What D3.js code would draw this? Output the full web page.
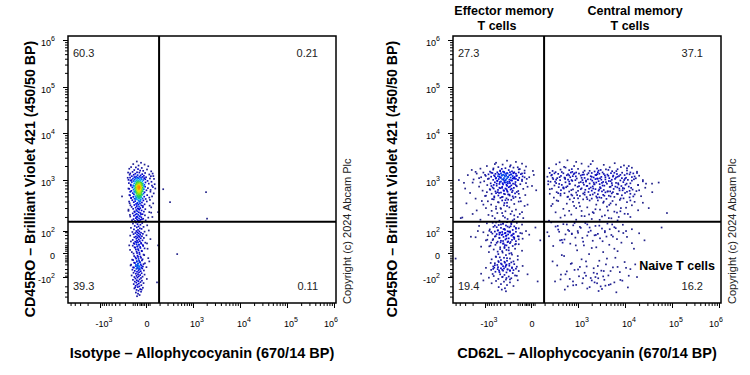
<!DOCTYPE html>
<meta charset="utf-8">
<script src="https://d3js.org/d3.v7.min.js"></script>
<style>
  body { margin: 0; background: #fff; }
  text { font-family: Arial, "Liberation Sans", sans-serif; }
</style>
<div id="my_dataviz"></div>
<script>

// axis ticks (biexponential display)
var xMajor = [-1000, 0, 1000, 1e4, 1e5, 1e6];
var yMajor = [-100, 0, 100, 1e3, 1e4, 1e5, 1e6];
var xMinor = [-5000, -4000, -3000, -2000, -900, -800, -700, -600, -500, -400, -300, -200, -100,
  -80, -60, -40, -30, -20, -10, 10, 20, 100, 200, 300, 400, 500, 600, 700, 800, 900,
  2000, 3000, 4000, 5000, 6000, 7000, 8000, 9000, 2e4, 3e4, 4e4, 5e4, 6e4, 7e4, 8e4, 9e4,
  2e5, 3e5, 4e5, 5e5, 6e5, 7e5, 8e5, 9e5];
var yMinor = [-400, -300, -200, -90, -70, -50, -30, -20, -15, -10, -5, 5, 10, 15, 20, 30, 50, 70, 90,
  200, 300, 400, 500, 600, 700, 800, 900, 2000, 3000, 4000, 5000, 6000, 7000, 8000, 9000,
  2e4, 3e4, 4e4, 5e4, 6e4, 7e4, 8e4, 9e4, 2e5, 3e5, 4e5, 5e5, 6e5, 7e5, 8e5, 9e5];

// quadrant gate
var gateX = 95, gateY = 160;

// quadrant frequencies: UL, UR, LL, LR
var isoPct = ["60.3", "0.21", "39.3", "0.11"];
var cd62Pct = ["27.3", "37.1", "19.4", "16.2"];

// Isotype plot events [APC, BV421]
var isoUpper = [[-62,2500],[-30,2350],[-95,2200],[-8,2150],[-48,2050],[12,1980],[-118,1900],[-70,1870],[-25,1820],[-140,1750],[-52,1720],[5,1690],[-85,1640],[-36,1600],[-16,1580],[30,1540],[-102,1500],[-60,1470],[-42,1450],[-5,1420],[-128,1390],[-75,1370],[-22,1340],[18,1320],[-90,1300],[-55,1280],[-33,1260],[-12,1240],[45,1220],[-110,1210],
[-68,1190],[-40,1180],[-20,1170],[-84,1160],[0,1150],[-55,1140],[-130,1130],[-30,1120],[-72,1110],[-10,1100],[-46,1090],[22,1080],[-98,1070],[-60,1060],[-26,1050],[-4,1040],[-80,1030],[-38,1020],[-150,1010],[-15,1000],
[-52,990],[-66,980],[-33,975],[8,965],[-90,960],[-45,950],[-21,945],[-75,935],[-58,925],[-110,920],[-36,910],[-3,905],[-64,895],[-28,885],[-48,880],[-85,870],[-17,865],[15,860],[-55,850],[-40,845],[-70,840],[-30,832],[-122,828],[-9,820],[-62,815],[-44,810],[-24,805],[-95,800],[-50,795],[35,792],[-78,788],[-35,784],[-14,780],[-58,776],[-68,772],
[-42,768],[-26,764],[-88,760],[-5,755],[-52,750],[-63,745],[-33,740],[-104,735],[-47,730],[-19,726],[-72,722],[-38,716],[10,712],[-58,708],[-82,702],[-29,698],[-45,694],[-140,690],[-66,686],[-12,682],[-36,678],[-54,674],[-92,670],[-24,665],[-48,660],[-74,655],[2,650],[-40,646],[-60,642],[-31,638],[-115,634],[-50,630],[-18,625],[-85,620],[-44,616],[25,612],[-69,608],[-35,604],[-56,600],[-8,598],
[-78,594],[-41,588],[-27,582],[-100,576],[-53,570],[-14,564],[-65,558],[-36,552],[-88,546],[-47,540],[-22,534],[6,528],[-130,522],[-59,516],[-32,510],[-75,505],[-43,500],[-10,495],[-95,490],[-52,485],[-28,480],[18,476],[-68,472],[-38,468],[-117,464],[-50,460],[-20,456],[-82,452],[-44,450],[-2,448],
[-60,440],[-32,432],[-105,425],[-15,420],[-48,414],[-76,408],[4,402],[-40,396],[-90,390],[-24,384],[-56,378],[-135,372],[-37,366],[-68,360],[-8,355],[-50,350],[-84,344],[-28,338],[20,334],[-62,328],[-44,322],[-112,316],[-18,312],[-72,306],[-35,300],[-54,296],[-96,290],[-4,286],[-42,280],[-66,275],[-26,270],[-150,265],[-58,260],[-12,256],[-80,252],[-46,248],[30,244],[-34,240],[-100,236],[-62,232],[-20,228],[-74,224],[-50,220],[-6,216],[-88,212],[-38,208],[-128,204],[-56,200],[-28,197],[12,194],[-70,190],[-44,187],[-16,184],[-92,181],[-60,178],[-34,175],[-108,172],[-2,170],[-52,168],[-78,166],[-40,164],[-24,180],[-64,202],[-30,226],[-84,258],[-48,290],[-18,330],[-58,370],[-36,410],[-70,446],
[-155,1450],[40,1380],[-135,1300],[28,1210],[-160,1120],[50,1060],[-125,980],[32,930],[-145,880],[55,840],[-120,790],[42,745],[-150,700],[26,660],[-128,610],[48,570],[-138,530],[36,500],[-118,470],[22,430],[-142,400],[44,370],[-126,340],[30,310],[-150,280],[18,250],[-132,220],[38,200],[-112,1000],[60,700],
[-48,900],[-30,889],[-60,878],[-40,867],[-22,856],[-54,845],[-36,834],[-66,823],[-44,812],[-26,801],[-58,790],[-38,779],[-50,768],[-30,757],[-64,746],[-42,735],[-20,724],[-52,713],[-34,702],[-46,691],[-60,680],[-28,669],[-40,658],[-54,647],[-36,636],[-24,625],[-48,614],[-62,603],[-32,592],[-44,581],[-56,570],[-38,559],[-28,548],[-50,537],[-42,526],[-34,515],[-58,504],[-46,493],[-30,482],[-40,471]];

var isoLower = [[-45,158],[-70,154],[-22,150],[-98,146],[-56,142],[-34,138],[6,134],[-80,130],[-48,127],[-14,124],[-62,121],[-120,118],[-38,115],[-26,112],[-88,109],[-52,106],[15,103],[-66,100],[-42,97],[-8,95],[-104,92],[-58,89],[-30,86],[-75,84],[-46,81],[-18,78],[-92,76],[-60,73],[-36,71],[2,68],[-128,66],[-50,64],[-24,62],[-70,60],[-40,58],[-84,56],[-56,54],[-12,52],[-32,50],[-66,48],[25,46],[-46,44],[-100,42],[-20,40],[-60,38],
[-38,36],[-76,34],[-52,32],[-4,30],[-90,28],[-28,26],[-64,24],[-44,22],[-140,20],[-16,18],[-56,16],[-82,14],[-34,12],[8,10],[-70,8],[-48,6],[-24,4],[-110,2],[-60,0],[-40,-2],[-10,-4],[-86,-6],[-52,-8],[-30,-10],[-68,-12],[-20,-14],[-96,-16],[-44,-18],[18,-20],[-62,-21],[-36,-23],[-78,-25],[-50,-27],[-14,-29],[-118,-31],[-58,-33],[-28,-35],[-72,-37],[-42,-39],[2,-41],[-88,-43],[-54,-45],[-22,-47],[-66,-49],[-38,-51],[-104,-53],[-48,-55],[-12,-57],[-80,-59],[-32,-61],
[-120,35],[-66,31],[-30,29],[5,27],[-84,25],[-46,23],[-18,21],[-100,19],[-58,17],[-36,15],[-76,13],[-8,11],[-52,9],[-130,7],[-26,5],[-64,3],[-42,1],[-92,-1],[-14,-3],[-56,-5],[-34,-7],[-74,-9],[12,-11],[-48,-13],[-106,-15],[-24,-17],[-62,-19],[-40,-22],[-86,-24],[-6,-26],[-54,-28],[-32,-30],[-70,-32],[-124,-34],[-46,-36],[-18,-38],[-60,-40],[-96,-42],[-28,-44],[-44,-46],
[-60,-64],[-44,-67],[-92,-70],[-26,-73],[-70,-76],[-52,-79],[-8,-82],[-36,-85],[-112,-88],[-64,-91],[-46,-94],[-20,-97],[-84,-100],[-56,-104],[-30,-108],[-74,-112],[4,-116],[-40,-120],[-98,-124],[-62,-128],[-24,-132],[-50,-137],[-80,-142],[-34,-147],[-66,-152],[-14,-158],[-46,-164],[-90,-170],[-58,-177],[-28,-184],[-72,-192],[-42,-200],[-54,-210],[-18,-220],[-84,-230],[-36,-242],[-64,-255],[-48,-270],[-30,-288],[-70,-305],[-52,-330],[-40,-360],[-60,-390],[-26,-250],[-76,-215]];

var isoOut = [[140,680],[1930,600],[240,390],[2030,185],[390,-2],[75,-150],[85,20],[85,250],[-250,500]];

// CD62L plot events [APC, BV421], by quadrant
var cd62UL = [[-250,2600],[-120,2450],[-520,2350],[-60,2250],[-340,2150],[-190,2080],[-900,2000],[-30,1950],[-450,1900],[-150,1850],[-280,1800],[-1300,1760],[-80,1720],[-620,1680],[-220,1640],[-400,1600],[10,1570],[-170,1540],[-750,1520],[-310,1500],[-2100,1650],[-100,1880],[-560,2200],[-40,1600],[-360,1740],
[-200,1480],[-480,1470],[-90,1460],[-1100,1450],[-300,1440],[-150,1430],[-650,1420],[-40,1410],[-380,1400],[-240,1390],[-1600,1380],[-120,1370],[-540,1360],[-270,1350],[-70,1340],[-820,1330],[-180,1320],[-420,1310],[-330,1300],[15,1290],[-2600,1280],[-210,1270],[-590,1260],[-110,1250],[-360,1240],[-960,1230],[-160,1220],[-460,1210],[-55,1200],[-290,1190],[-700,1180],[-230,1170],[-135,1160],[-1250,1150],[-400,1140],[-190,1130],[-85,1120],[-520,1110],[-310,1100],[-250,1090],[-800,1080],[-140,1070],[-25,1060],[-440,1050],[-350,1040],[-1900,1030],[-210,1020],[-620,1010],[-100,1000],[-280,990],[-170,980],[-480,970],[-60,960],[-1050,950],[-380,940],[-240,930],[-125,920],[-560,910],[-300,900],[-3200,890],[-200,880],[-720,870],[-155,860],[-420,850],[-75,840],[-330,830],[-260,820],[-880,810],[-180,800],[-500,790],[5,780],[-110,770],[-1400,760],[-350,750],[-220,740],[-640,730],[-145,720],[-400,710],[-280,700],[-50,690],[-760,680],[-190,670],[-460,660],[-320,650],[-1150,640],[-95,630],[-540,620],[-240,610],[-170,600],[-380,590],[-2300,580],[-130,570],[-680,560],[-290,550],[-210,540],[-35,530],[-450,520],[-1000,510],[-160,500],[-340,490],[-580,480],[-80,470],[-260,460],[-1700,455],[-420,1170],[-120,1060],[-300,960],[-200,760],[-500,860],[-90,560],[-250,640],[-360,1280],[-150,1400],[-600,700],[-430,580],[-270,900],
[-600,440],[-180,430],[-350,420],[-1200,410],[-90,400],[-460,390],[-250,380],[-2800,370],[-140,360],[-700,350],[-310,340],[-40,330],[-520,320],[-210,310],[-950,300],[-380,290],[-120,280],[-1600,270],[-280,260],[-60,250],[-480,240],[-190,230],[-820,220],[-330,210],[-100,200],[-3500,195],[-560,188],[-240,182],[-1300,176],[-160,170],[-420,168],[-20,350],[-680,265],[-300,375],[-2000,230],[-140,215],[-850,405],[-50,190],[-390,300],[-230,435],[-4200,1000],[-3800,190],
[-330,1520],[-140,1470],[-700,1445],[-250,1415],[-60,1385],[-450,1355],[-190,1325],[-1000,1295],[-300,1265],[-115,1235],[-560,1205],[-230,1175],[-40,1145],[-380,1115],[-160,1085],[-850,1055],[-270,1025],[-95,995],[-480,965],[-210,935],[-1300,905],[-340,875],[-130,845],[-600,815],[-250,785],[-20,755],[-420,725],[-175,695],[-740,665],[-310,635],[-110,605],[-520,575],[-230,545],[-950,515],[-360,485],[-150,465],[-660,445],[-280,425],[-70,405],[-440,385],
[-200,1950],[-610,1780],[-90,1700],[-400,1560],[-1700,1500],[-265,1240],[-145,1110],[-530,1080],[-320,1010],[-185,990],[-410,920],[-235,870],[-120,800],[-690,780],[-355,720],[-260,680],[-160,640],[-470,600],[-310,560],[-205,520],[-580,500],[-125,490],[-395,470],[-1100,350],[-250,330],[-520,290],[-170,260],[-350,240],[-80,230],[-650,210],[-290,195],[-140,180],[-900,600],[-1400,1100],[-2000,900],[-3000,700],[-30,880],[-10,1150],[30,650],[-60,1020]];

var cd62UR = [[540,2650],[2100,2550],[330,2400],[6100,2300],[1200,2250],[260,2180],[3600,2120],[9500,2060],[800,2000],[1700,1960],[440,1920],[4800,1880],[14000,1840],[150,1800],[2600,1770],[1000,1740],[7000,1710],[350,1680],[3100,1650],[600,1630],[11000,1610],[1400,1590],[200,1570],[5400,1550],[2300,1530],[18000,1510],[720,1500],[4000,1700],[8200,1900],[1900,2200],[480,1850],[12000,2000],[2800,1600],[900,2450],[6600,1560],
[250,1480],[1300,1470],[3400,1460],[660,1450],[8700,1440],[160,1430],[2000,1420],[5100,1410],[420,1400],[15000,1390],[1050,1380],[2900,1370],[300,1360],[6800,1350],[780,1340],[12500,1330],[1600,1320],[4300,1310],[190,1300],[2400,1290],[9800,1280],[520,1270],[3800,1260],[1150,1250],[20000,1240],[360,1230],[7500,1220],[1900,1210],[880,1200],[5600,1190],[130,1180],[3200,1170],[14000,1160],[640,1150],[2200,1140],[450,1130],[10500,1120],[1400,1110],[4700,1100],[280,1100],
[17000,1090],[930,1080],[2700,1070],[6200,1060],[210,1050],[1650,1040],[3900,1030],[560,1020],[11500,1010],[1250,1000],[340,995],[8000,985],[2050,975],[720,965],[5000,955],[24000,948],[1500,940],[170,932],[3500,925],[9200,918],[480,910],[2500,902],[1050,895],[6500,888],[260,880],[13000,872],[1800,865],[4200,858],[610,850],[2950,843],[140,836],[7300,830],[1350,823],[380,816],[19000,810],[5400,805],[850,800],[2250,840],[10800,860],[3300,890],[1150,920],[4600,960],[690,1000],[15500,1040],[2600,1075],
[230,795],[3700,790],[1600,784],[8400,778],[540,772],[2100,766],[12000,760],[980,754],[4800,748],[310,742],[6900,736],[1900,730],[27000,724],[420,718],[3100,712],[1200,706],[9600,700],[190,694],[5800,688],[2400,682],[750,676],[14500,670],[1450,664],[3600,658],[360,652],[7700,646],[2800,640],[1000,634],[17500,628],[4400,622],[600,616],[11000,610],[1700,605],[270,600],[6300,760],[2150,700],[8900,650],[500,740],[3300,620],[13500,720],
[3900,595],[900,590],[2300,585],[10000,580],[450,575],[5300,570],[1300,565],[160,560],[7100,555],[2700,550],[16000,545],[680,540],[3500,535],[1850,530],[8600,525],[350,520],[4600,515],[1100,510],[22000,505],[2500,500],[560,495],[6000,490],[1550,485],[12500,480],[220,475],[3200,470],[800,465],[9300,460],[2000,455],[4100,450],[1400,540],[5600,600],[720,520],[13000,560],[2900,480],
[620,440],[7800,430],[1800,420],[300,410],[3600,400],[11000,390],[1050,380],[5000,370],[200,360],[2500,350],[14000,340],[800,330],[4200,320],[1600,310],[8200,300],[420,290],[3000,280],[19000,272],[1200,264],[6000,256],[250,248],[2200,240],[9800,232],[680,224],[3800,216],[1400,208],[13000,200],[350,194],[5200,188],[2000,182],[900,176],[7000,170],[150,168],[2700,420],[16000,395],[520,365],[4700,345],[1100,325],[10500,305],[2400,285],[600,265],[6800,245],[1750,225],[3300,205],[24000,380],[460,215],[8000,260],[1300,440],[4600,190],[180,330],[32000,300],[2950,175],[11500,230],[750,395],[5500,410],[78000,240],[37600,860],[52000,900],[38000,600],
[380,1490],[2700,1475],[900,1455],[6000,1435],[1700,1415],[230,1395],[11000,1375],[3600,1355],[560,1335],[1350,1315],[8000,1295],[2500,1275],[180,1255],[4500,1235],[740,1215],[16000,1195],[2000,1175],[330,1155],[6500,1135],[1200,1115],[3000,1095],[10000,1075],[470,1055],[1900,1035],[5300,1015],[860,995],[14000,975],[2800,955],[240,935],[4000,915],[1300,895],[7200,875],[620,855],[2300,835],[19000,815],[3400,795],[1050,775],[5000,755],[420,735],[9000,715],[1750,695],[2900,675],[680,655],[12500,635],[4300,615],[1400,595],[300,575],[6800,560],[2100,545],[950,530],[3700,515],[15000,500],[540,488],[2600,472],[8100,458],[1600,445],[4900,620],[1150,680],[7600,700],[320,850],[2400,1050],[5700,1250],[820,1400],[13000,1460],[3900,1150],[260,1020],[1550,780],[10200,820],[600,940],[3200,1020],[7000,1180],[2000,640],[1250,1300],[5300,880],[430,700],[2200,900],[9600,1000],[1800,1580],[4500,1650],[700,1720],[11000,1800],[350,560],[3000,740],[1500,980],[8600,1100],[24000,1000],[600,1260],[2600,1340],[18000,1420],[470,1100],[5000,500],[1000,460],[3500,380],[900,300],[6500,350],[2100,250],[13000,420],[270,420],[4400,270],[1200,210],[7400,200],[20000,650],[28000,860],[160,680],[200,1120],[140,950]];

var cd62LL = [[-250,158],[-520,154],[-110,151],[-900,148],[-330,145],[-180,142],[-60,139],[-440,136],[-270,133],[-1400,130],[-140,127],[-610,124],[-210,121],[-380,118],[-90,115],[-300,112],[-760,109],[-160,106],[-470,103],[-30,100],[-240,98],[-560,96],[-120,94],[-350,92],[-1100,90],[-200,88],[-420,86],[-75,84],[-290,82],[-650,80],[-150,78],[-500,76],[-230,74],[-10,72],[-360,70],[-850,68],[-180,66],[-270,64],[-100,62],[-560,60],
[-180,150],[-380,140],[-560,132],[-240,126],[-120,118],[-320,110],[-460,104],[-200,97],[-700,91],[-280,85],[-150,79],[-420,73],[-260,67],[-90,61],[-640,152],[-330,146],[-190,128],[-500,122],[-120,113],[-290,107],[-780,101],[-220,95],[-400,87],[-60,81],[-340,75],[-170,69],[-530,63],[-250,157],[25,120],[-1500,100],
[-320,58],[-1700,56],[-140,54],[-420,52],[-220,50],[-55,48],[-620,46],[-280,44],[-170,42],[-950,40],[-380,38],[-120,36],[-470,34],[-240,32],[-700,30],[-200,28],[-330,26],[-90,24],[-540,22],[-260,20],[-160,18],[-1250,16],[-400,14],[-300,12],[-130,10],[-600,8],[-220,6],[-350,4],[-800,2],[-180,0],[-450,-2],[-270,-4],[-100,-6],[-520,-8],[-310,-10],[-200,-12],[-680,-14],[-380,-16],[-250,-18],[-150,-20],
[-150,57],[-420,53],[-260,49],[-90,45],[-640,41],[-330,37],[-190,33],[-500,29],[-120,25],[-290,21],[-780,17],[-220,13],[-400,9],[-60,5],[-340,1],[-170,-3],[-530,-7],[-250,-11],[-100,-15],[-450,-19],[60,40],[-2200,59],[-320,27],[-410,-9],[-140,47],[-730,19],[-230,35],[-470,3],[-300,15],[-260,7],[-880,43],[-210,-1],[-130,23],[-390,31],[-5000,-12],
[-440,-22],[-290,-24],[-560,-26],[-210,-28],[-360,-30],[-480,-32],[-270,-34],[-55,-36],[-620,-38],[-280,-40],[-170,-42],[-950,-44],[-380,-46],[-120,-48],[-470,-50],[-240,-52],[-700,-54],[-200,-56],[-330,-58],[-90,-60],
[-300,-21],[-180,-23],[-720,-25],[-380,-27],[-140,-29],[-260,-31],[-560,-33],[-210,-35],[-330,-37],[-110,-39],[-460,-41],[-580,-43],[-170,-45],[-310,-47],[-620,-49],[-240,-51],[-350,-53],[-150,-55],[-430,-57],[-200,-59],
[-540,-64],[-260,-68],[-160,-72],[-1250,-76],[-400,-80],[-300,-84],[-130,-88],[-600,-92],[-220,-96],[-350,-100],[-800,-105],[-180,-110],[-450,-116],[-270,-122],[-100,-128],[-520,-135],[-310,-142],[-200,-150],[-680,-160],[-380,-170],[-250,-182],[-150,-195],[-440,-210],[-290,-228],[-360,-250],[-270,-280],[-20,-80],[40,-140],[-1100,-130],[-260,-108],[-110,-90],[-640,-78],[-420,-66],[-200,-120],[-340,-98]];

var cd62LR = [[180,155],[1450,150],[4300,146],[420,142],[9000,138],[760,134],[2400,130],[250,126],[6000,122],[1150,118],[3300,114],[14000,110],[560,106],[1900,102],[7400,98],[320,94],[3800,90],[1000,86],[20000,82],[2700,78],[480,74],[5200,70],[1600,66],[150,62],[11000,58],[860,54],[3000,50],[6800,46],[380,42],[2100,38],[1300,34],[8400,30],[640,26],[4700,22],[210,18],[2500,14],[15500,10],[950,6],[3500,2],[1750,-2],[440,-6],[6300,-10],[1200,-14],[2900,-18],[9800,-22],[700,-26],[4000,-30],[280,-34],[1550,-38],[5600,-42],[2200,-46],[13000,-50],[820,-54],[3200,-58],[520,-62],[7800,-66],[1400,-70],[2600,-76],[360,-82],[4500,-88],[1050,-94],[18000,-100],[1900,-108],[620,-116],[3700,-124],[8800,-132],[240,-140],[2300,-150],[1250,-160],[5000,-172],[760,-185],[3100,-200],[11500,-215],[1600,-232],[460,-250],[2800,-275],[6600,-300],[130,90],[350,-120],[1800,120],[5400,140],[26000,40],[900,-180],[4100,60],[600,100],[2000,-130],[7000,-40],[1350,20],[3600,-60],[10500,100],[200,-20],[2450,70],[820,150],[6000,-150],[1500,-90],[400,30],[3300,-240],[12000,-90],[550,-200],[4800,110],[1100,-40],[2750,-110],[16500,-30],[700,80],[3900,-190],[290,130],[45000,-50],[60000,120],
[520,140],[2900,132],[1100,124],[6400,116],[300,108],[3800,100],[1700,92],[9200,84],[700,76],[2300,68],[5600,60],[1250,52],[450,44],[3400,36],[14000,28],[880,20],[2000,12],[7000,4],[380,-4],[4200,-12],[1500,-20],[660,-28],[2700,-36],[10500,-44],[1000,-52],[5000,-60],[2200,-70],[480,-80],[3500,-95],[1300,-110],[8000,-125],[750,-140],[2600,-160],[4600,-180],[1800,-210],[340,40],[1600,140],[6000,10],[2400,-100],[980,100]];

// plot box
var W = 268, H = 267;

var svg = d3.select("#my_dataviz")
  .append("svg")
    .attr("width", 750)
    .attr("height", 375);

// pseudocolour by neighbour count
var color = d3.scaleLinear()
  .domain([0, 10, 20, 31, 43, 56])
  .range(["#24248a", "#0000d8", "#00a8ff", "#2ad43c", "#f2e600", "#ff3000"])
  .clamp(true);

function tickLabel(t, v) {
  if (v === 0) { t.text("0"); return; }
  t.append("tspan").text((v < 0 ? "-" : "") + "10");
  t.append("tspan").attr("dy", -5).style("font-size", "7px")
    .text(Math.round(Math.log10(Math.abs(v))));
}

function drawPanel(left, events, pct, xTitle, yTitleX, copyX) {
  var g = svg.append("g").attr("transform", "translate(" + left + ",36)");

  var x = d3.scaleSymlog().constant(100)
    .domain(xMajor)
    .range([32, 78, 125, 172, 219, 266]);
  var y = d3.scaleSymlog().constant(30)
    .domain(yMajor)
    .range([241, 217, 195, 144, 97, 51, 4]);

  // dots coloured by local density
  var pts = [];
  events.forEach(function (arr) {
    arr.forEach(function (d) { pts.push({ px: x(d[0]), py: y(d[1]), n: 0 }); });
  });
  for (var i = 0; i < pts.length; i++) {
    for (var j = i + 1; j < pts.length; j++) {
      var dx = pts[i].px - pts[j].px, dy = pts[i].py - pts[j].py;
      if (dx * dx + dy * dy < 16) { pts[i].n++; pts[j].n++; }
    }
  }
  pts.sort(function (a, b) { return a.n - b.n; });
  g.append("g")
    .selectAll("rect")
    .data(pts)
    .enter()
    .append("rect")
      .attr("x", function (d) { return d.px - 0.8; })
      .attr("y", function (d) { return d.py - 0.8; })
      .attr("width", 1.7)
      .attr("height", 1.7)
      .style("fill", function (d) { return color(d.n); });

  // ticks
  g.append("g").attr("transform", "translate(0," + H + ")")
    .call(d3.axisBottom(x).tickValues(xMinor).tickSize(3).tickFormat(""))
    .call(function (a) { a.select(".domain").remove(); });
  g.append("g").attr("transform", "translate(0," + H + ")")
    .call(d3.axisBottom(x).tickValues(xMajor).tickSize(5).tickFormat(""))
    .call(function (a) { a.select(".domain").remove(); });
  g.append("g")
    .call(d3.axisLeft(y).tickValues(yMinor).tickSize(3).tickFormat(""))
    .call(function (a) { a.select(".domain").remove(); });
  g.append("g")
    .call(d3.axisLeft(y).tickValues(yMajor).tickSize(5).tickFormat(""))
    .call(function (a) { a.select(".domain").remove(); });

  xMajor.forEach(function (v) {
    var off = v === 0 ? 1 : (v === 1e6 ? -3 : 4);
    var t = g.append("text")
      .attr("x", x(v) + off)
      .attr("y", H + 24)
      .attr("text-anchor", "middle")
      .style("font-size", "9px");
    tickLabel(t, v);
  });
  yMajor.forEach(function (v) {
    var t = g.append("text")
      .attr("x", -13)
      .attr("y", y(v) + 5.5)
      .attr("text-anchor", "end")
      .style("font-size", "9px");
    tickLabel(t, v);
  });

  // gates
  g.append("line")
    .attr("x1", x(gateX)).attr("x2", x(gateX))
    .attr("y1", 0).attr("y2", H)
    .style("stroke", "#000").style("stroke-width", 2);
  g.append("line")
    .attr("x1", 0).attr("x2", W)
    .attr("y1", y(gateY)).attr("y2", y(gateY))
    .style("stroke", "#000").style("stroke-width", 2);

  g.append("rect")
    .attr("width", W).attr("height", H)
    .style("fill", "none").style("stroke", "#000").style("stroke-width", 1.5);

  // quadrant frequencies
  var qx = [5, W - 18, 5, W - 18], qy = [21, 21, H - 13, H - 13];
  pct.forEach(function (p, k) {
    g.append("text")
      .attr("x", qx[k]).attr("y", qy[k])
      .attr("text-anchor", k % 2 ? "end" : "start")
      .style("font-size", "11px").style("fill", "#222")
      .text(p);
  });

  // axis titles
  svg.append("text")
    .attr("x", left + W / 2)
    .attr("y", 358)
    .attr("text-anchor", "middle")
    .style("font-size", "14.5px").style("font-weight", "bold")
    .text(xTitle);
  svg.append("text")
    .attr("transform", "translate(" + yTitleX + ",179) rotate(-90)")
    .attr("text-anchor", "middle")
    .style("font-size", "14.2px").style("font-weight", "bold")
    .text("CD45RO – Brilliant Violet 421 (450/50 BP)");
  svg.append("text")
    .attr("transform", "translate(" + copyX + ",304) rotate(-90)")
    .style("font-size", "11px").style("fill", "#222")
    .text("Copyright (c) 2024 Abcam Plc");

  return g;
}

drawPanel(68, [isoUpper, isoLower, isoOut], isoPct,
  "Isotype – Allophycocyanin (670/14 BP)", 35, 351);
var right = drawPanel(453, [cd62UL, cd62UR, cd62LL, cd62LR], cd62Pct,
  "CD62L – Allophycocyanin (670/14 BP)", 397, 736);

// population labels
right.append("text")
  .attr("x", W - 6).attr("y", 233.5)
  .attr("text-anchor", "end")
  .style("font-size", "12.5px").style("font-weight", "bold")
  .text("Naive T cells");

[["Effector memory", 504, 15], ["T cells", 497, 30], ["Central memory", 635, 15], ["T cells", 630, 30]]
  .forEach(function (h) {
    svg.append("text")
      .attr("x", h[1]).attr("y", h[2])
      .attr("text-anchor", "middle")
      .style("font-size", "12.5px").style("font-weight", "bold")
      .text(h[0]);
  });

</script>
